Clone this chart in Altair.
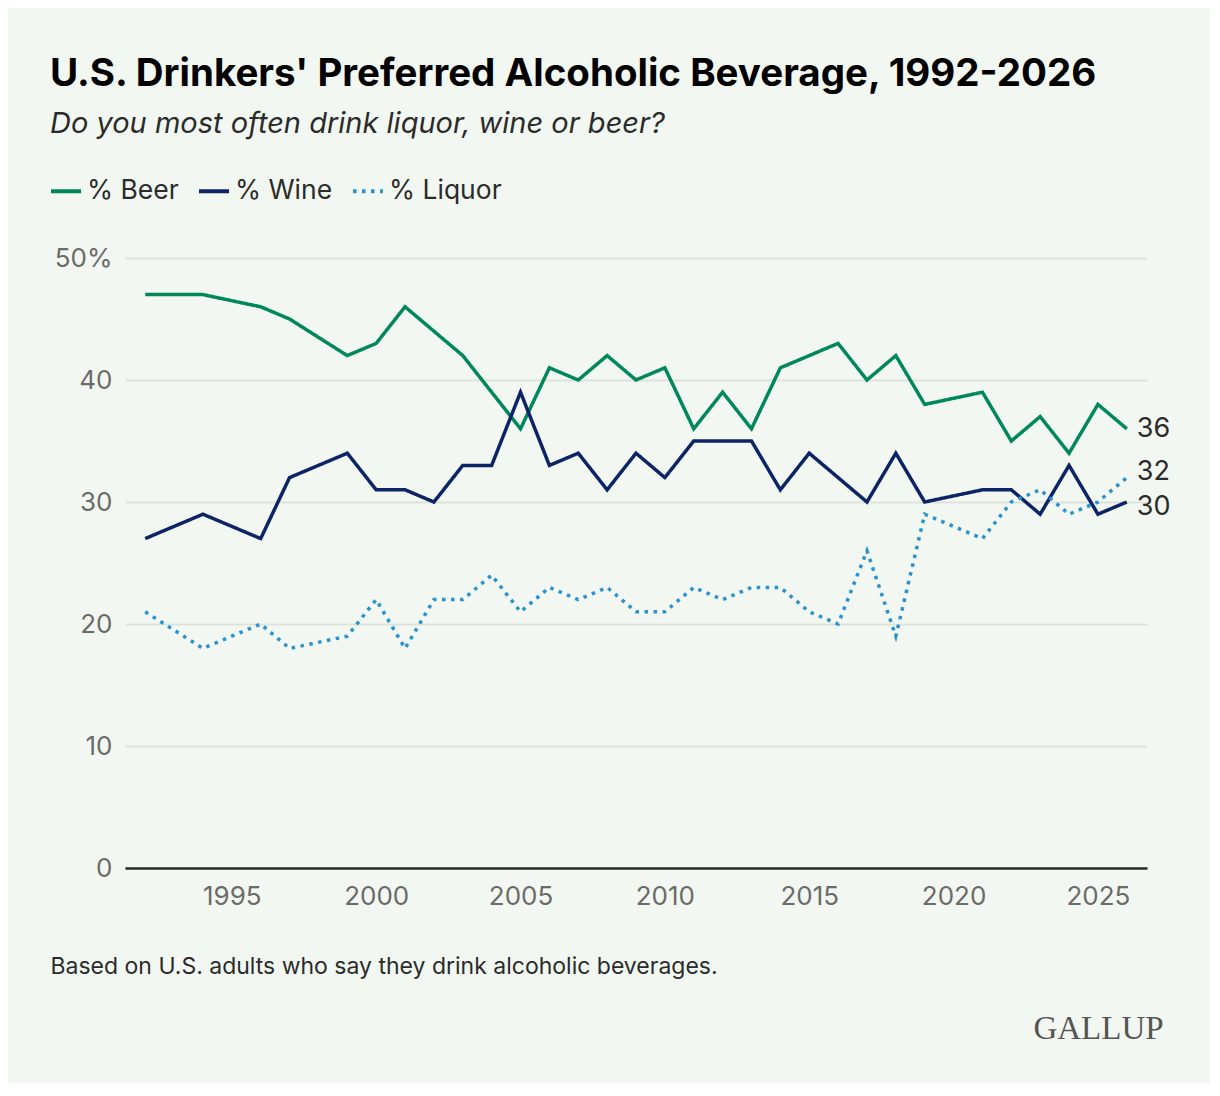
import pandas as pd
import altair as alt

years = [1992, 1994, 1996, 1997, 1999, 2000, 2001, 2002, 2003, 2004, 2005,
         2006, 2007, 2008, 2009, 2010, 2011, 2012, 2013, 2014, 2015, 2016,
         2017, 2018, 2019, 2021, 2022, 2023, 2024, 2025, 2026]
beer = [47, 47, 46, 45, 42, 43, 46, 44, 42, 39, 36, 41, 40, 42, 40, 41, 36,
        39, 36, 41, 42, 43, 40, 42, 38, 39, 35, 37, 34, 38, 36]
wine = [27, 29, 27, 32, 34, 31, 31, 30, 33, 33, 39, 33, 34, 31, 34, 32, 35,
        35, 35, 31, 34, 32, 30, 34, 30, 31, 31, 29, 33, 29, 30]
liquor = [21, 18, 20, 18, 19, 22, 18, 22, 22, 24, 21, 23, 22, 23, 21, 21, 23,
          22, 23, 23, 21, 20, 26, 19, 29, 27, 30, 31, 29, 30, 32]

series = ['% Beer', '% Wine', '% Liquor']
colors = ['#00875a', '#0c2366', '#2a93cf']
x_ticks = [1995, 2000, 2005, 2010, 2015, 2020, 2025]
y_ticks = [0, 10, 20, 30, 40, 50]

df = pd.DataFrame({'year': years, '% Beer': beer, '% Wine': wine, '% Liquor': liquor})
df = df.melt('year', var_name='series', value_name='pct')

FONT = 'Inter'

x = alt.X('year:Q').scale(domain=[1991.3, 2026.7], nice=False, zero=False).axis(
    values=x_ticks, format='d', ticks=False, grid=False,
    domainColor='#2b2b2b', domainWidth=2.5,
    labelFontSize=26, labelColor='#6b6b6b', labelPadding=15, labelFont=FONT,
    title='Based on U.S. adults who say they drink alcoholic beverages.',
    titleX=-75, titleY=98, titleAlign='left', titleBaseline='middle', titleAnchor='start',
    titleFontSize=23, titleFontWeight='normal', titleColor='#2b2b2b', titleFont=FONT)

y = alt.Y('pct:Q').scale(domain=[0, 50], nice=False).axis(
    values=y_ticks, ticks=False, domain=False,
    labelExpr="datum.value == 50 ? '50%' : datum.label",
    gridColor='#dde3dc', gridWidth=2,
    labelFontSize=26, labelColor='#6b6b6b', labelPadding=13, labelFont=FONT,
    title='GALLUP', titleAngle=0, titleX=973, titleY=770, titleAlign='center',
    titleBaseline='middle', titleFont='Liberation Serif', titleFontSize=33,
    titleFontWeight='normal', titleColor='#555555')

lines = alt.Chart(df).mark_line(strokeWidth=3.5, strokeCap='butt').encode(
    x=x,
    y=y,
    color=alt.Color('series:N').scale(domain=series, range=colors).legend(
        orient='none', legendX=-76, legendY=-84, direction='horizontal', title=None,
        symbolType='stroke', symbolSize=900, symbolStrokeWidth=4,
        labelFontSize=26.5, labelColor='#2b2b2b', labelFont=FONT, columnPadding=12,
        labelOffset=4),
    strokeDash=alt.StrokeDash('series:N').scale(
        domain=series, range=[[1, 0], [1, 0], [3.5, 5.5]]).legend(None),
    detail='series:N',
)

label_dy = {'% Beer': 0, '% Wine': 5, '% Liquor': -6}
labels = [
    alt.Chart(df).transform_filter(
        (alt.datum.year == 2026) & (alt.datum.series == s)
    ).mark_text(align='left', baseline='middle', dx=10, dy=label_dy[s],
                fontSize=27, font=FONT, color='#2b2b2b').encode(
        x='year:Q', y='pct:Q', text='pct:Q')
    for s in series
]

chart = alt.layer(lines, *labels).properties(
    width=1022, height=610,
    autosize=alt.AutoSizeParams(type='none'),
    padding={'left': 117, 'top': 250, 'right': 63, 'bottom': 215},
    background='#f2f8f1',
    title=alt.TitleParams(
        text="U.S. Drinkers' Preferred Alcoholic Beverage, 1992-2026",
        subtitle='Do you most often drink liquor, wine or beer?',
        anchor='start', frame='group', dx=-75, offset=34,
        font=FONT, fontSize=38.5, fontWeight='bold', color='#000000',
        subtitleFont=FONT, subtitleFontSize=29, subtitleFontStyle='italic',
        subtitleColor='#2b2b2b', subtitlePadding=16),
).configure_view(stroke=None)

chart.save("out.html", embed_options={"renderer": "svg", "actions": False})
